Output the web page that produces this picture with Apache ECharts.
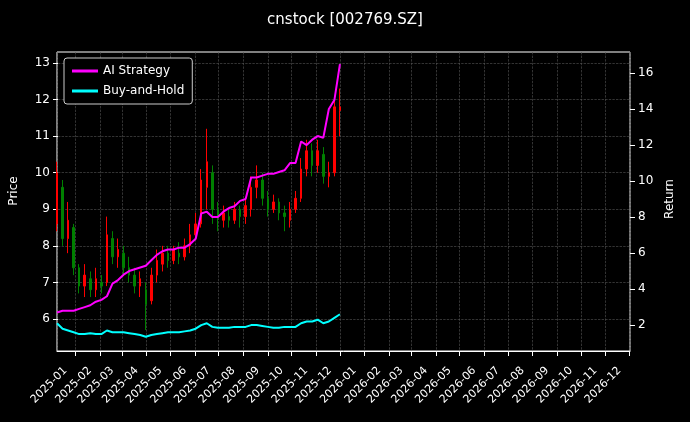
<!DOCTYPE html><html><head><meta charset="utf-8"><script src="https://cdn.jsdelivr.net/npm/echarts@6/dist/echarts.min.js"></script>
<style>html,body{margin:0;background:#000}#c{width:690px;height:422px}</style></head><body><div id="c"></div><script>
const startDate='2024-12-09';
const ohlc=[[8.6,10.0,8.4,10.3],[9.6,8.2,8.0,9.8],[8.2,8.7,7.8,9.2],[8.5,7.4,7.2,8.6],[7.4,6.9,6.7,7.5],[6.9,7.2,6.6,7.5],[7.1,6.8,6.6,7.3],[6.8,7.1,6.6,7.4],[7.0,6.9,6.7,7.2],[7.0,8.3,6.9,8.8],[8.2,7.7,7.5,8.4],[7.7,7.9,7.4,8.2],[7.8,7.4,7.2,8.0],[7.4,7.2,7.0,7.7],[7.2,6.9,6.7,7.4],[6.9,7.1,6.6,7.3],[6.8,6.4,5.7,7.0],[6.5,7.2,6.4,7.4],[7.2,7.6,7.0,7.9],[7.5,7.8,7.3,8.0],[7.8,7.6,7.4,8.0],[7.6,7.9,7.5,8.0],[7.8,7.7,7.5,8.1],[7.7,8.0,7.6,8.2],[8.0,8.3,7.8,8.6],[8.3,8.6,8.2,8.9],[8.6,9.8,8.5,10.1],[9.6,10.3,9.0,11.2],[10.0,9.0,8.6,10.2],[9.0,8.8,8.4,9.2],[8.7,8.9,8.5,9.1],[8.8,8.7,8.5,9.0],[8.7,9.0,8.6,9.2],[9.0,8.8,8.5,9.1],[8.8,9.1,8.6,9.3],[9.0,9.6,8.8,9.9],[9.6,9.8,9.3,10.2],[9.8,9.3,9.1,10.0],[9.3,9.0,8.8,9.5],[9.0,9.2,8.9,9.4],[9.2,8.9,8.7,9.3],[8.9,8.8,8.4,9.1],[8.7,9.0,8.5,9.2],[9.0,9.3,8.9,9.5],[9.3,10.1,9.2,10.4],[10.1,10.6,9.9,10.9],[10.6,10.2,9.9,10.8],[10.2,10.6,10.0,10.9],[10.5,9.9,9.7,10.7],[9.9,10.0,9.6,10.3],[10.0,11.8,9.9,12.0],[11.7,11.8,11.0,12.3]];
const aiRet=[2.7,2.8,2.8,2.8,2.9,3.0,3.1,3.3,3.4,3.6,4.3,4.5,4.8,5.0,5.1,5.2,5.3,5.6,5.9,6.1,6.2,6.2,6.3,6.3,6.5,6.8,8.2,8.3,8.0,8.0,8.3,8.5,8.6,8.9,9.0,10.2,10.2,10.3,10.4,10.4,10.5,10.6,11.0,11.0,12.2,12.0,12.3,12.5,12.4,14.0,14.5,16.5];
const bahRet=[2.1,1.8,1.7,1.6,1.5,1.5,1.55,1.5,1.5,1.7,1.6,1.6,1.6,1.55,1.5,1.45,1.35,1.45,1.5,1.55,1.6,1.6,1.6,1.65,1.7,1.8,2.0,2.1,1.9,1.85,1.85,1.85,1.9,1.9,1.9,2.0,2.0,1.95,1.9,1.85,1.85,1.9,1.9,1.9,2.1,2.2,2.2,2.3,2.1,2.2,2.4,2.6];
const t0=new Date(startDate+'T00:00:00Z').getTime();
const dates=ohlc.map((_,i)=>t0+i*7*864e5);
const candles=ohlc.map((d,i)=>[dates[i],d[0],d[1],d[2],d[3]]);
const c=echarts.init(document.getElementById('c'));
const gl={type:'dashed',color:'#555',width:0.6};
const xmin=Date.UTC(2024,11,9),xmax=Date.UTC(2026,11,2);
const hiddenX=g=>({type:'time',gridIndex:g,min:xmin,max:xmax,show:false});
const F='DejaVu Sans';
c.setOption({backgroundColor:'#000',animation:false,
title:{text:'cnstock [002769.SZ]',left:'center',top:8,textStyle:{color:'#fff',fontSize:15,fontWeight:'normal',fontFamily:F}},
legend:{left:64,top:58,orient:'vertical',icon:'rect',itemWidth:26,itemHeight:3,itemGap:8,padding:[7,8],borderColor:'#ccc',borderWidth:1,borderRadius:3,backgroundColor:'#000',textStyle:{color:'#fff',fontSize:12,fontFamily:F},data:['AI Strategy','Buy-and-Hold']},
grid:[{left:57,right:60,top:52,bottom:71,show:true,borderColor:'#fff',borderWidth:1,backgroundColor:'transparent'},
{left:57,right:60,top:63,bottom:103},{left:57,right:60,top:73,bottom:97}],
xAxis:[{type:'time',gridIndex:0,min:xmin,max:xmax,splitNumber:24,minInterval:28*864e5,axisLine:{lineStyle:{color:'#fff'}},axisTick:{lineStyle:{color:'#fff'}},splitLine:{show:true,lineStyle:gl},
axisLabel:{color:'#fff',rotate:45,fontSize:11,fontFamily:F,padding:[0,14,0,0],formatter:v=>{const d=new Date(v);return d.getUTCFullYear()+'-'+String(d.getUTCMonth()+1).padStart(2,'0');},hideOverlap:false}},hiddenX(1),hiddenX(2)],
yAxis:[{type:'value',gridIndex:0,min:5.125,max:13.3,show:false,splitLine:{show:false}},
{type:'value',gridIndex:0,min:0.56,max:17.17,show:false,splitLine:{show:false}},
{type:'value',gridIndex:1,min:6,max:13,interval:1,name:'Price',nameLocation:'middle',nameGap:38,nameTextStyle:{color:'#fff',fontSize:12,fontFamily:F},axisLine:{show:false},axisTick:{show:true,lineStyle:{color:'#fff'}},splitLine:{lineStyle:gl},axisLabel:{color:'#fff',fontSize:12,fontFamily:F}},
{type:'value',gridIndex:2,position:'right',min:2,max:16,interval:2,name:'Return',nameLocation:'middle',nameGap:32,nameTextStyle:{color:'#fff',fontSize:12,fontFamily:F},axisLine:{show:false},axisTick:{show:true,lineStyle:{color:'#fff'}},splitLine:{show:false},axisLabel:{color:'#fff',fontSize:12,fontFamily:F}}],
series:[{type:'candlestick',xAxisIndex:0,yAxisIndex:0,barWidth:2,data:candles,itemStyle:{color:'#ff0000',color0:'#008000',borderColor:'#ff0000',borderColor0:'#008000',borderWidth:1}},
{name:'AI Strategy',type:'line',xAxisIndex:0,yAxisIndex:1,showSymbol:false,data:aiRet.map((v,i)=>[dates[i],v]),lineStyle:{color:'#ff00ff',width:2},itemStyle:{color:'#ff00ff'}},
{name:'Buy-and-Hold',type:'line',xAxisIndex:0,yAxisIndex:1,showSymbol:false,data:bahRet.map((v,i)=>[dates[i],v]),lineStyle:{color:'#00ffff',width:2},itemStyle:{color:'#00ffff'}}]});
</script></body></html>
